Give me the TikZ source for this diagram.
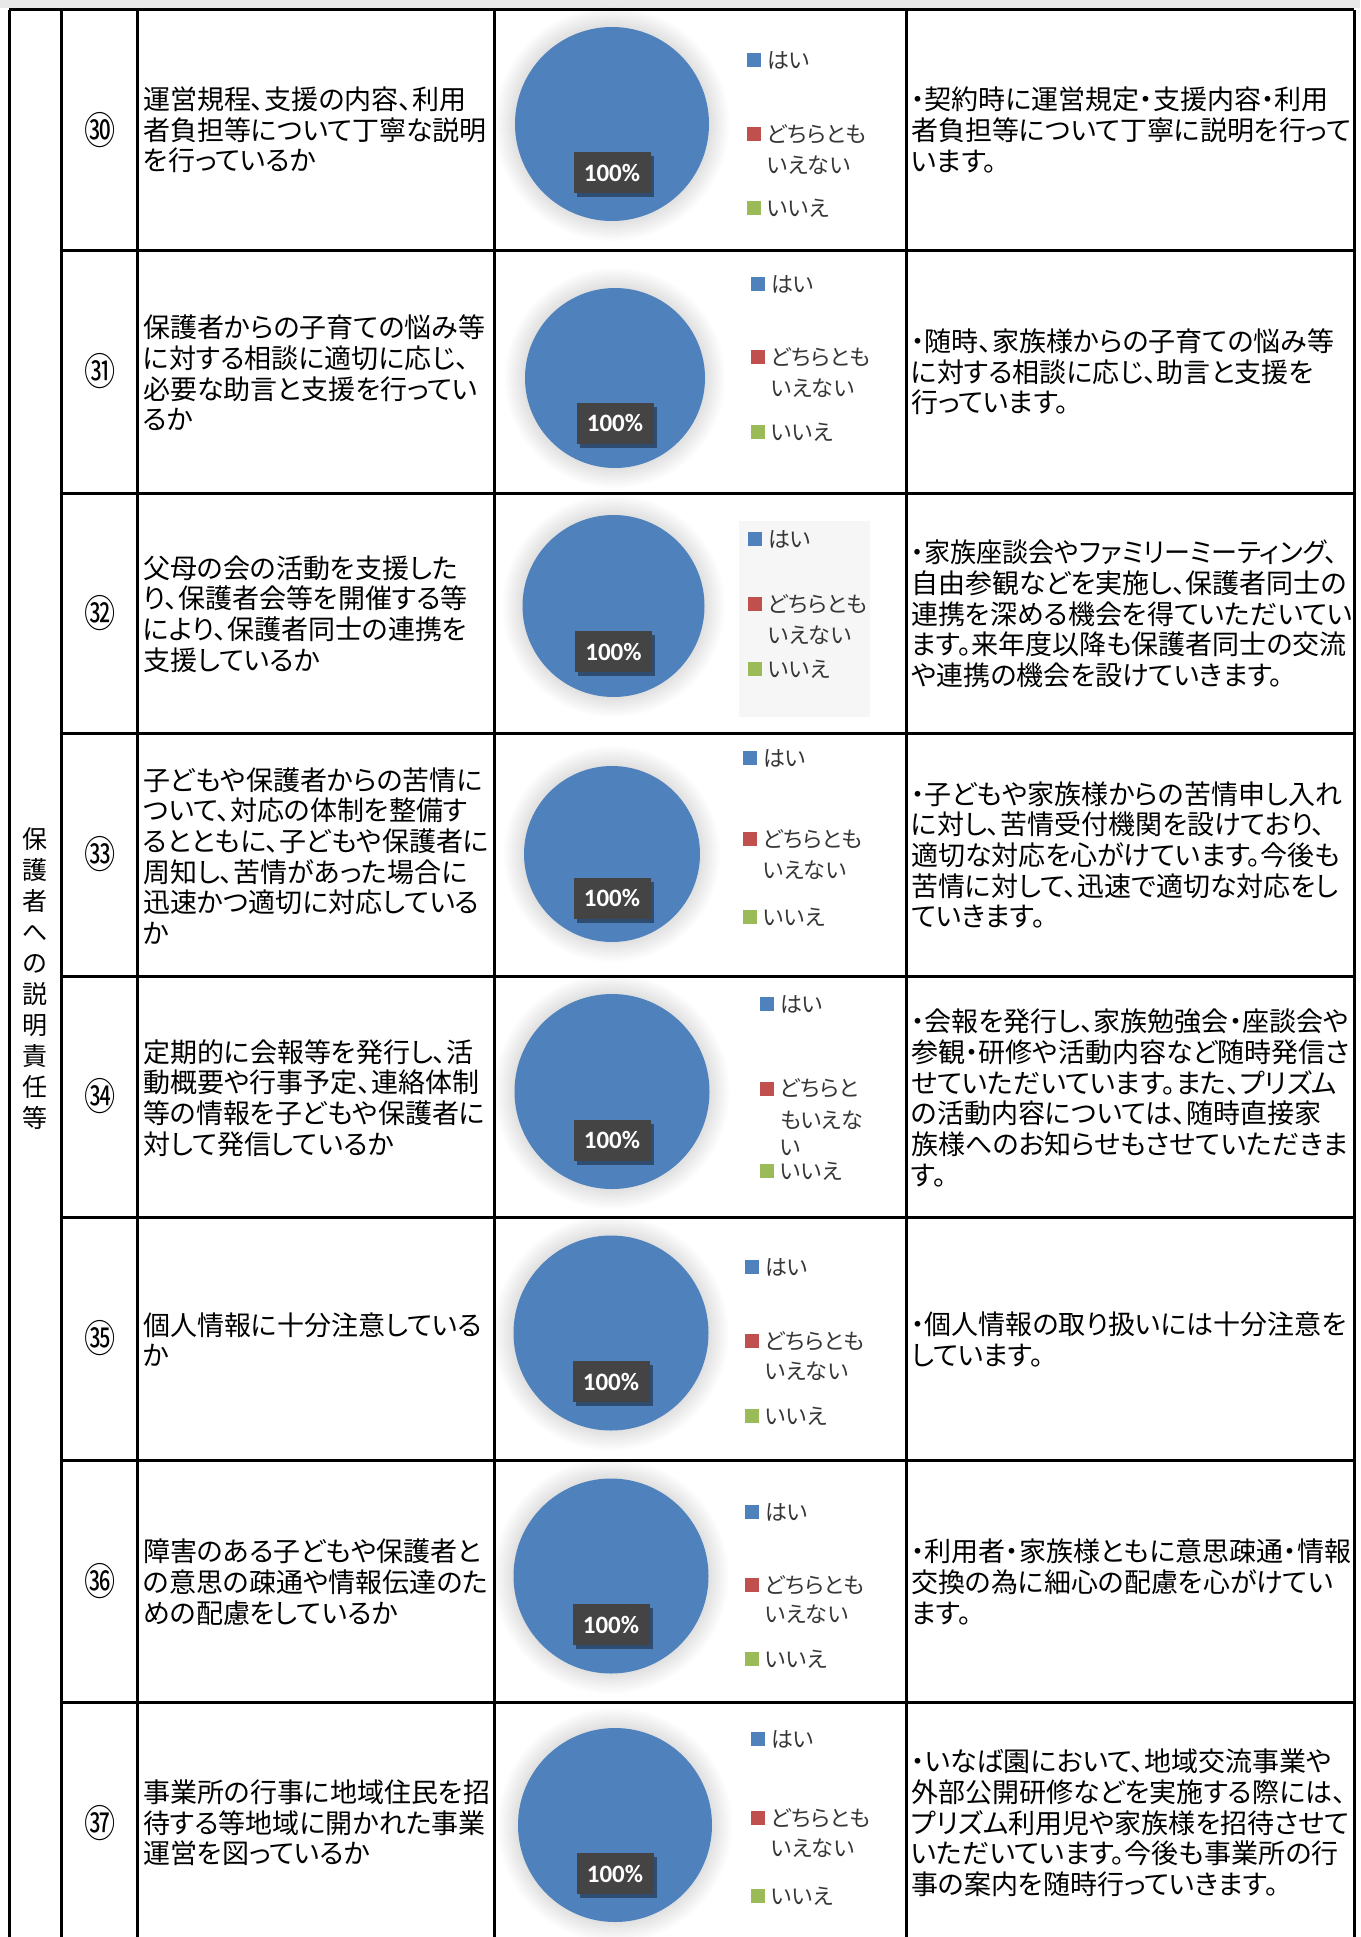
\documentclass[tikz,border=0pt]{standalone}
\usepackage{fontspec}
\setmainfont{Noto Sans CJK JP}[RawFeature={+palt}]
\newfontfamily\pctfont{Carlito}
\usetikzlibrary{shadows}
\definecolor{pieblue}{HTML}{4F81BD}
\definecolor{piered}{HTML}{C0504D}
\definecolor{piegreen}{HTML}{9BBB59}
\definecolor{legtext}{HTML}{363636}
\definecolor{lblbox}{HTML}{444444}
\definecolor{legbgc}{HTML}{F6F6F6}
\definecolor{topstrip}{HTML}{E8E8E8}
\tikzset{
  grid/.style={line width=3pt, black},
  qtext/.style={anchor=west, align=left, inner sep=0pt, font=\fontsize{27}{30.7}\selectfont},
  ctext/.style={anchor=west, align=left, inner sep=0pt, font=\fontsize{27}{30.7}\selectfont},
  numtext/.style={inner sep=0pt, font=\fontsize{38}{38}\selectfont},
  cattext/.style={inner sep=0pt, align=center, font=\fontsize{25}{31}\selectfont},
  pienode/.style={circle, fill=pieblue, inner sep=0pt},
  lbl/.style={fill=lblbox, text=white, font=\pctfont\bfseries\fontsize{25}{25}\selectfont,
    minimum width=77, minimum height=41, inner sep=0pt,
    drop shadow={shadow xshift=3pt, shadow yshift=-4pt, opacity=0.4, fill=black}},
  legsq/.style={minimum size=14, inner sep=0pt},
  legtxt/.style={anchor=west, inner sep=0pt, text=legtext, font=\fontsize{22}{22}\selectfont},
}
\newcommand{\piedraw}[4]{%
  \foreach \k in {1,...,10}{\fill[black,opacity=0.011] (#2,#3) circle ({#4+2*\k});}
  \node[pienode, minimum size={2*#4}] (pie#1) at (#2,#3) {};
  \node[lbl] (pct#1) at (#2,{#3+0.5*#4}) {100\%};
}
\newcommand{\pielegend}[6]{%
  \node[legsq,fill=pieblue] (sqh#1) at (#2,#3) {};
  \node[legtxt] (th#1) at ({#2+13},#3) {はい};
  \node[legsq,fill=piered] (sqd#1) at (#2,#4) {};
  \node[legtxt] (td#1) at ({#2+13},#4) {どちらとも};
  \node[legtxt] (te#1) at ({#2+13},#5) {いえない};
  \node[legsq,fill=piegreen] (sqi#1) at (#2,#6) {};
  \node[legtxt] (ti#1) at ({#2+13},#6) {いいえ};
}
\newcommand{\circnum}[1]{\scalebox{0.82}[1]{#1}}
\begin{document}
\begin{tikzpicture}[x=1pt,y=-1pt]
\useasboundingbox (0,0) rectangle (1360,1937);
\fill[white] (0,0) rectangle (1360,1937);
\fill[topstrip] (0,0) rectangle (1360,8);

% category column
\node[cattext] (cat) at (35,979) {保\\護\\者\\へ\\の\\説\\明\\責\\任\\等};

% numbers
\node[numtext] (n30) at (100,130) {\circnum{㉚}};
\node[numtext] (n31) at (100,371.5) {\circnum{㉛}};
\node[numtext] (n32) at (100,613) {\circnum{㉜}};
\node[numtext] (n33) at (100,854.5) {\circnum{㉝}};
\node[numtext] (n34) at (100,1096.5) {\circnum{㉞}};
\node[numtext] (n35) at (100,1338.5) {\circnum{㉟}};
\node[numtext] (n36) at (100,1581) {\circnum{㊱}};
\node[numtext] (n37) at (100,1823) {\circnum{㊲}};

% questions
\node[qtext] (q30) at (143,130) {運営規程、支援の内容、利用\\者負担等について丁寧な説明\\を行っているか};
\node[qtext] (q31) at (143,373) {保護者からの子育ての悩み等\\に対する相談に適切に応じ、\\必要な助言と支援を行ってい\\るか};
\node[qtext] (q32) at (143,614) {父母の会の活動を支援した\\り、保護者会等を開催する等\\により、保護者同士の連携を\\支援しているか};
\node[qtext] (q33) at (143,856) {子どもや保護者からの苦情に\\ついて、対応の体制を整備す\\るとともに、子どもや保護者に\\周知し、苦情があった場合に\\迅速かつ適切に対応している\\か};
\node[qtext] (q34) at (143,1098) {定期的に会報等を発行し、活\\動概要や行事予定、連絡体制\\等の情報を子どもや保護者に\\対して発信しているか};
\node[qtext] (q35) at (143,1339.5) {個人情報に十分注意している\\か};
\node[qtext] (q36) at (143,1582) {障害のある子どもや保護者と\\の意思の疎通や情報伝達のた\\めの配慮をしているか};
\node[qtext] (q37) at (143,1823) {事業所の行事に地域住民を招\\待する等地域に開かれた事業\\運営を図っているか};

% comments
\node[ctext] (c30) at (911,130) {・契約時に運営規定・支援内容・利用\\者負担等について丁寧に説明を行って\\います。};
\node[ctext] (c31) at (911,372) {・随時、家族様からの子育ての悩み等\\に対する相談に応じ、助言と支援を\\行っています。};
\node[ctext] (c32) at (911,614) {\scalebox{0.965}[1]{・家族座談会やファミリーミーティング、}\\自由参観などを実施し、保護者同士の\\連携を深める機会を得ていただいてい\\ます。来年度以降も保護者同士の交流\\や連携の機会を設けていきます。};
\node[ctext] (c33) at (911,855) {・子どもや家族様からの苦情申し入れ\\に対し、苦情受付機関を設けており、\\適切な対応を心がけています。今後も\\苦情に対して、迅速で適切な対応をし\\ていきます。};
\node[ctext] (c34) at (911,1098) {・会報を発行し、家族勉強会・座談会や\\参観・研修や活動内容など随時発信さ\\せていただいています。また、プリズム\\の活動内容については、随時直接家\\族様へのお知らせもさせていただきま\\す。};
\node[ctext] (c35) at (911,1339.5) {・個人情報の取り扱いには十分注意を\\しています。};
\node[ctext] (c36) at (911,1582) {・利用者・家族様ともに意思疎通・情報\\交換の為に細心の配慮を心がけてい\\ます。};
\node[ctext] (c37) at (911,1823) {・いなば園において、地域交流事業や\\外部公開研修などを実施する際には、\\プリズム利用児や家族様を招待させて\\いただいています。今後も事業所の行\\事の案内を随時行っていきます。};

% pies
\piedraw{30}{612}{124}{97}
\piedraw{31}{615}{378}{90}
\piedraw{32}{613.5}{606}{91}
\piedraw{33}{612}{854}{88}
\piedraw{34}{612}{1091.5}{97.5}
\piedraw{35}{611}{1333}{97.5}
\piedraw{36}{611}{1576}{97.5}
\piedraw{37}{615}{1825}{97}

% legends
\pielegend{30}{754}{60}{134.5}{165}{208}
\pielegend{31}{758}{284}{357}{388}{432}
\fill[legbgc] (739,521) rectangle (870,717);
\pielegend{32}{755}{539}{604}{635}{669}
\pielegend{33}{750}{758}{839}{870}{917}
\node[legsq,fill=pieblue] (sqh34) at (767,1004) {};
\node[legtxt] (th34) at (780,1004) {はい};
\node[legsq,fill=piered] (sqd34) at (767,1088.5) {};
\node[legtxt] (td34) at (780,1088.5) {どちらと};
\node[legtxt] (te34) at (780,1120) {もいえな};
\node[legtxt] (tf34) at (780,1148) {い};
\node[legsq,fill=piegreen] (sqi34) at (767,1171) {};
\node[legtxt] (ti34) at (780,1171) {いいえ};
\pielegend{35}{752}{1267}{1341}{1371}{1416}
\pielegend{36}{752}{1512}{1585}{1614}{1659}
\pielegend{37}{758}{1739}{1818}{1848}{1896}

% grid
\draw[grid] (9,10) -- (1354,10);
\foreach \yy in {250,493,733,976,1217,1460,1702}{\draw[grid] (61,\yy) -- (1354,\yy);}
\foreach \xx in {9,61,137,494,906,1354}{\draw[grid] (\xx,10) -- (\xx,1950);}
\end{tikzpicture}
\end{document}
